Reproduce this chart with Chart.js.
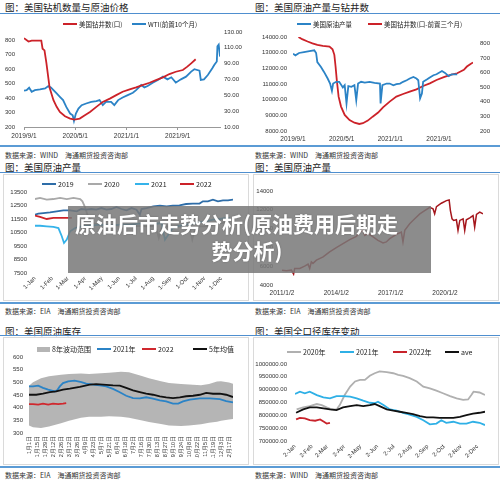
<!DOCTYPE html>
<html>
<head>
<meta charset="utf-8">
<script src="https://cdn.jsdelivr.net/npm/chart.js@4"></script>
<style>
body { margin: 0; width: 500px; height: 480px; position: relative; background: #fff; overflow: hidden; font-family: "Noto Sans CJK SC", sans-serif; }
body > * { position: absolute; }
.t { font-size: 9.5px; line-height: 12px; color: #222; white-space: nowrap; }
.r1 { height: 1px; background: #4f8fcf; }
.r2 { height: 2px; background: #5b9bd5; }
.s { font-size: 7px; line-height: 10px; color: #333; white-space: nowrap; }
.box { border: 1px solid #dadada; }
.lg { font-size: 6.5px; line-height: 10px; color: #222; white-space: nowrap; display: flex; align-items: center; }
.lg i { display: inline-block; width: 14px; height: 2px; margin-right: 2px; }
.ban { background: rgba(120,120,120,0.85); }
.bt { color: #fff; font-weight: 700; font-size: 21px; line-height: 26px; white-space: nowrap; text-shadow: 0 0 2px rgba(0,0,0,0.25); }
</style>
</head>
<body>
<!-- top left -->
<div class="t" style="left:5px;top:1px">图：美国钻机数量与原油价格</div>
<div class="r1" style="left:0;top:13px;width:250px"></div>
<canvas id="c1" width="250" height="128" style="left:0;top:16px"></canvas>
<div class="r2" style="left:0;top:145px;width:250px"></div>
<div class="s" style="left:5px;top:150px">数据来源：WIND　海通期货投资咨询部</div>

<!-- top right -->
<div class="t" style="left:255px;top:1px">图：美国原油产量与钻井数</div>
<div class="r1" style="left:250px;top:13px;width:250px"></div>
<canvas id="c2" width="250" height="128" style="left:250px;top:16px"></canvas>
<div class="r2" style="left:250px;top:145px;width:250px"></div>
<div class="s" style="left:255px;top:150px">数据来源：WIND　海通期货投资咨询部</div>

<!-- middle left -->
<div class="t" style="left:5px;top:161px">图：美国原油产量</div>
<div class="r1" style="left:0;top:172px;width:250px"></div>
<div class="box" style="left:3px;top:174px;width:244px;height:125px"></div>
<canvas id="c3" width="250" height="128" style="left:0;top:174px"></canvas>
<div class="r2" style="left:0;top:302px;width:250px"></div>
<div class="s" style="left:5px;top:306px">数据来源：EIA　海通期货投资咨询部</div>

<!-- middle right -->
<div class="t" style="left:255px;top:161px">图：美国原油产量</div>
<div class="r1" style="left:250px;top:172px;width:250px"></div>
<div class="box" style="left:253px;top:174px;width:244px;height:125px"></div>
<canvas id="c4" width="250" height="128" style="left:250px;top:174px"></canvas>
<div class="r2" style="left:250px;top:302px;width:250px"></div>
<div class="s" style="left:255px;top:306px">数据来源：EIA　海通期货投资咨询部</div>

<!-- bottom left -->
<div class="t" style="left:5px;top:325px">图：美国原油库存</div>
<div class="r1" style="left:0;top:335px;width:250px"></div>
<div class="box" style="left:3px;top:337px;width:244px;height:126px"></div>
<canvas id="c5" width="250" height="128" style="left:0;top:337px"></canvas>
<div class="r2" style="left:0;top:466px;width:250px"></div>
<div class="s" style="left:5px;top:470px">数据来源：EIA　海通期货投资咨询部</div>

<!-- bottom right -->
<div class="t" style="left:255px;top:325px">图：美国全口径库存变动</div>
<div class="r1" style="left:250px;top:335px;width:250px"></div>
<div class="box" style="left:253px;top:337px;width:244px;height:126px"></div>
<canvas id="c6" width="250" height="128" style="left:250px;top:337px"></canvas>
<div class="r2" style="left:250px;top:466px;width:250px"></div>
<div class="s" style="left:255px;top:470px">数据来源：WIND　海通期货投资咨询部</div>

<!-- banner -->
<div class="ban" style="left:68px;top:206px;width:363px;height:67px"></div>
<div class="bt" style="left:75px;top:210px">原油后市走势分析(原油费用后期走</div>
<div class="bt" style="left:68px;top:237px;width:358px;text-align:center">势分析)</div>

<script>
// ---- chart 1: rigs vs WTI (months since 2019/9/1)
const rigMonthsA = [0, 0.7, 1.2, 2.7, 2.9, 3.2, 3.5, 4.0, 4.6, 5.1, 5.6, 6.4, 7.2, 7.9, 8.7, 9.5, 10.3, 11.3, 12.3, 13.4, 14.4, 15.4, 16.5, 17.5, 18.5, 19.6, 20.6, 21.7, 22.7, 23.7, 24.8, 25.5, 26.1, 26.8];
const rigCountA = [812, 789, 796, 795, 740, 728, 640, 470, 385, 339, 304, 274, 258, 251, 258, 281, 304, 339, 373, 396, 420, 443, 459, 473, 489, 505, 523, 542, 565, 581, 593, 616, 639, 667];
const wtiMonthsA = [0, 0.4, 0.8, 1.2, 1.7, 2.5, 3.3, 3.8, 4.2, 4.6,
  5.1, 5.6, 6.1, 6.6, 7.2, 7.6, 7.8, 8.1, 8.5, 9.0,
  9.7, 10.5, 11.3, 11.8, 12.3, 12.8, 13.6, 14.1, 14.7, 15.4,
  16.2, 17.0, 17.5, 18.3, 18.8, 19.3, 20.1, 20.9, 21.7, 22.4,
  23.0, 23.7, 24.5, 25.3, 26.1, 26.6, 27.4, 27.6, 28.1, 28.7,
  29.4, 29.7, 30.1, 30.2, 30.4, 30.6];
const wtiPriceA = [55.8, 56.6, 59.6, 54.5, 56.6, 57.5, 58.8, 61.7, 60, 56.6,
  52.4, 48.2, 44, 35.4, 27, 24.8, 17.6, 27, 33.3, 37.6,
  39.7, 41.8, 42.6, 44, 37.6, 41.8, 41.8, 37.6, 44, 47.3,
  50.3, 53.2, 56.6, 63, 60, 61.7, 66, 69.4, 73.6, 70.2,
  72.8, 66, 70.2, 73.6, 80, 83, 81.2, 69.4, 70.2, 75.7,
  84.2, 88.4, 92.7, 111.8, 114, 99];
const dateTicksA = [0, 8, 16, 24];
const dateLabelsA = ['2019/9/1', '2020/5/1', '2021/1/1', '2021/9/1'];
const rigTicksA = [200, 300, 400, 500, 600, 700, 800];
const wtiTicksA = [10, 30, 50, 70, 90, 110, 130];

// ---- chart 2: production vs rigs (3 months lead)
const prodMonthsB = [0, 0.4, 1.0, 1.8, 2.7, 3.5, 3.8, 4.0, 4.6, 5.1,
  5.7, 6.1, 6.4, 6.6, 7.1, 7.6, 8.2, 8.5, 8.8, 9.1,
  9.6, 10.1, 10.4, 10.7, 11.2, 11.8, 12.6, 13.4, 14.3, 14.4,
  14.7, 15.4, 15.9, 16.5, 17.0, 17.6, 18.1, 18.7, 19.2, 19.8,
  20.3, 20.6, 20.9, 21.2, 21.4, 22.0, 22.5, 23.1, 23.6, 24.5,
  25.0, 25.6, 26.1, 27.0];
const prodB = [12936, 12830, 12980, 13040, 13100, 13150, 12980, 12400, 12090, 11770,
  11350, 11030, 10560, 11030, 11140, 11140, 10780, 10920, 9760, 10860,
  10820, 10920, 9970, 11030, 11140, 11090, 11140, 11070, 11030, 9760,
  10920, 11030, 11030, 10920, 10990, 11030, 11140, 11240, 11350, 11450,
  11350, 11240, 10080, 10390, 11140, 11280, 11410, 11560, 11620, 11830,
  11710, 11500, 11620, 11620];
const rigMonthsB = [0.9, 1.5, 2.4, 3.2, 4.0, 4.9, 6.0, 6.5, 6.8, 7.0,
  7.2, 7.5, 7.9, 8.5, 9.3, 10.1, 10.9, 11.5, 12.3, 13.1,
  14.0, 14.8, 15.9, 17.0, 18.1, 19.2, 20.3, 21.4, 22.5, 23.6,
  24.8, 25.9, 27.0, 28.1, 28.6, 29.2, 29.6];
const rigLeadB = [843, 828, 812, 800, 789, 782, 778, 759, 721, 641,
  549, 435, 367, 310, 275, 257, 248, 253, 271, 298,
  326, 362, 401, 435, 453, 469, 485, 508, 526, 549,
  568, 584, 595, 618, 641, 659, 668];
const prodTicksB = [8000, 9000, 10000, 11000, 12000, 13000, 14000];
const rigTicksB = [200, 300, 400, 500, 600, 700, 800];

// ---- chart 3: seasonal production (day of year)
const days2019C = [1, 7, 16, 28, 40, 52, 64, 76, 84, 93, 102, 111, 120, 129, 138, 147, 156, 165, 174, 183, 189, 192, 201, 213, 225, 237, 248, 260, 272, 284, 296, 302, 311, 320, 329, 338, 347, 356];
const prod2019C = [11820, 11900, 11940, 11990, 12070, 12140, 12140, 12070, 12240, 12190, 12240, 12190, 12310, 12190, 12240, 12390, 12240, 12140, 12310, 12190, 11820, 12240, 12310, 12440, 12490, 12440, 12490, 12510, 12610, 12640, 12640, 12810, 12810, 12930, 12810, 12880, 12880, 12930];
const days2020C = [1, 10, 22, 34, 46, 58, 70, 82, 86, 90, 96, 105, 117, 129, 141, 153, 165, 177, 189, 201, 213, 219, 223, 228, 237, 248, 260, 272, 278, 283, 287, 296, 308, 320, 332, 350];
const prod2020C = [12980, 13060, 12930, 12980, 13060, 12980, 13060, 12980, 12810, 12440, 11700, 11200, 11080, 10960, 11080, 11000, 11080, 10960, 11000, 10960, 11000, 10710, 10090, 10830, 10960, 10830, 10960, 10830, 10960, 9970, 10590, 10960, 10960, 11080, 11200, 11250];
const days2021C = [1, 10, 22, 34, 43, 49, 53, 58, 64, 73, 84, 99, 117, 135, 153, 171, 189, 207, 219, 228, 234, 240, 248, 260, 272, 284, 296, 308, 320, 332, 344, 350];
const prod2021C = [11000, 11000, 10960, 10910, 10830, 10220, 9720, 9970, 10590, 10830, 10960, 11000, 11080, 11000, 11080, 11080, 11150, 11200, 11150, 11200, 9970, 10340, 10830, 11000, 11080, 11150, 11250, 11330, 11450, 11500, 11580, 11580];
const days2022C = [1, 10, 22, 34, 46, 58, 67];
const prod2022C = [11750, 11650, 11500, 11580, 11580, 11580, 11580];
const monthDaysC = [1, 32, 60, 91, 121, 152, 182, 213, 244, 274, 305, 335];
const monthLabelsC = ['1-Jan', '1-Feb', '1-Mar', '1-Apr', '1-May', '1-Jun', '1-Jul', '1-Aug', '1-Sep', '1-Oct', '1-Nov', '1-Dec'];
const prodTicksC = [7500, 8500, 9500, 10500, 11500, 12500, 13500];

// ---- chart 4: long-run production (years)
const yearsD = [2011.0, 2011.24, 2011.52, 2011.64, 2011.7, 2011.98, 2012.25, 2012.44, 2012.53, 2012.62,
  2012.71, 2012.9, 2013.27, 2013.63, 2014.0, 2014.37, 2014.74, 2015.11, 2015.29, 2015.48,
  2015.57, 2015.75, 2016.03, 2016.3, 2016.58, 2016.76, 2016.95, 2017.32, 2017.59, 2017.68,
  2017.78, 2018.05, 2018.33, 2018.61, 2018.88, 2019.16, 2019.34, 2019.43, 2019.53, 2019.8,
  2020.08, 2020.23, 2020.3, 2020.39, 2020.48, 2020.63, 2020.72, 2020.82, 2021.0, 2021.09,
  2021.18, 2021.37, 2021.55, 2021.64, 2021.74, 2021.92, 2022.1];
const prodD = [5580, 5510, 5580, 5160, 5760, 5760, 6000, 6220, 5760, 6460,
  6300, 6640, 6990, 7520, 7980, 8400, 8820, 9180, 9630, 9810,
  9280, 9460, 9110, 8750, 8470, 8580, 8930, 9390, 9630, 8580,
  9810, 10510, 11040, 11570, 11920, 12270, 12100, 11570, 12340, 12700,
  12980, 13050, 11920, 11040, 10870, 10940, 9810, 10870, 11040, 9810,
  10940, 11150, 11390, 10160, 11500, 11750, 11570];
const yearTicksD = [2011, 2014, 2017, 2020];
const yearLabelsD = ['2011/1/2', '2014/1/2', '2017/1/2', '2020/1/2'];
const prodTicksD = [4000, 6000, 8000, 10000, 12000, 14000];

// ---- chart 5: crude stocks (week of year)
const weeksBandE = [0, 1, 3, 5, 8, 10, 13, 15, 18, 20, 23, 25, 28, 30, 33, 35, 38, 40, 43, 45, 47, 48, 50, 51];
const bandHighE = [487, 500, 516, 524, 530, 533, 535, 533, 536, 538, 542, 540, 526, 516, 504, 497, 493, 491, 488, 493, 503, 504, 499, 494];
const bandLowE = [330, 323, 320, 326, 338, 348, 360, 364, 364, 366, 364, 360, 350, 343, 336, 330, 328, 330, 335, 340, 344, 348, 353, 355];
const weeks2021E = [0, 1, 2.3, 3.5, 4.8, 6.4, 7, 7.7, 8.5, 9.8, 11.4, 13.1, 14.3, 16, 17.7, 19.3, 21, 22.7, 24.3, 26, 27.7, 29.3, 31, 32.7, 34.3, 36, 37.3, 38.5, 40.2, 42.7, 45.2, 47.7, 49.3, 51];
const stock2021E = [484, 484, 487, 478, 471, 464, 468, 484, 497, 504, 507, 501, 495, 491, 488, 484, 474, 461, 447, 438, 437, 441, 436, 429, 425, 416, 416, 425, 432, 437, 437, 434, 426, 421];
const weeks5yE = [0, 1.8, 3.5, 5.2, 6.8, 8.5, 10.2, 12.7, 15.2, 16.8, 18.5, 21, 22.7, 24.3, 26, 27.7, 29.3, 31, 32.7, 34.3, 36, 37.7, 39.3, 41, 42.7, 44.3, 46, 47.7, 49.3, 51];
const avg5yE = [451, 451, 455, 461, 464, 471, 475, 482, 491, 493, 491, 488, 487, 478, 468, 461, 455, 451, 445, 441, 438, 441, 445, 447, 451, 458, 455, 455, 451, 442];
const weeks2022E = [0, 1, 2.3, 3.5, 4.8, 6, 7.3, 8.5, 9.3];
const stock2022E = [414, 414, 412, 416, 412, 416, 414, 416, 418];
const weekTicksE = [0, 2, 4, 6, 8, 10, 12, 14, 16, 18, 20, 22, 24, 26, 28, 30, 32, 34, 36, 38, 40, 42, 44, 46, 48, 50];
const weekLabelsE = ['1月1日', '1月15日', '1月29日', '2月12日', '2月26日', '3月12日', '3月26日', '4月9日', '4月23日', '5月7日', '5月21日', '6月4日', '6月18日', '7月2日', '7月16日', '7月30日', '8月13日', '8月27日', '9月10日', '9月24日', '10月8日', '10月22日', '11月5日', '11月19日', '12月3日', '12月17日'];
const stockTicksE = [300, 350, 400, 450, 500, 550, 600];

// ---- chart 6: total stocks (day of year)
const days2020F = [5, 17, 29, 42, 51, 60, 69, 78, 84, 93, 103, 112, 121, 130, 139, 148, 157, 170, 182, 191, 200, 212, 225, 237, 249, 261, 273, 286, 298, 310, 319, 325, 329, 340, 350];
const inv2020F = [823000, 831000, 836000, 844000, 840000, 831000, 823000, 823000, 840000, 879000, 912000, 932000, 938000, 938000, 954000, 964000, 971000, 968000, 964000, 958000, 954000, 945000, 932000, 912000, 905000, 896000, 886000, 875000, 866000, 860000, 862000, 879000, 892000, 889000, 879000];
const days2021F = [2, 11, 20, 29, 42, 54, 66, 78, 90, 103, 115, 127, 139, 148, 154, 164, 176, 188, 200, 212, 225, 237, 249, 261, 270, 279, 292, 304, 316, 328, 340, 350];
const inv2021F = [883000, 892000, 886000, 892000, 879000, 870000, 866000, 875000, 875000, 873000, 866000, 857000, 849000, 847000, 853000, 840000, 823000, 818000, 810000, 803000, 794000, 781000, 765000, 768000, 781000, 771000, 775000, 768000, 768000, 775000, 771000, 762000];
const days2022F = [4, 11, 20, 29, 39, 48, 55, 60, 66];
const inv2022F = [784000, 790000, 788000, 781000, 779000, 784000, 775000, 768000, 771000];
const daysAveF = [4, 17, 29, 42, 54, 66, 78, 90, 103, 115, 127, 139, 148, 157, 170, 182, 194, 206, 218, 231, 243, 255, 267, 279, 292, 304, 316, 328, 340, 350];
const invAveF = [810000, 823000, 831000, 831000, 827000, 823000, 820000, 831000, 836000, 840000, 836000, 840000, 844000, 836000, 823000, 818000, 814000, 810000, 805000, 797000, 792000, 792000, 790000, 790000, 790000, 794000, 801000, 807000, 810000, 814000];
const monthDaysF = [2, 33, 61, 92, 122, 153, 183, 214, 245, 275, 306, 336];
const monthLabelsF = ['2-Jan', '2-Feb', '2-Mar', '2-Apr', '2-May', '2-Jun', '2-Jul', '2-Aug', '2-Sep', '2-Oct', '2-Nov', '2-Dec'];
const invTicksF = [700000, 750000, 800000, 850000, 900000, 950000, 1000000];

Chart.defaults.font.family = '"Liberation Sans", Arial, sans-serif';
Chart.defaults.font.size = 6;
Chart.defaults.color = '#333';

function pts(xs, ys) {
  return xs.map((x, i) => ({ x: x, y: ys[i] }));
}

function line(xs, ys, color, width, axis) {
  return { data: pts(xs, ys), borderColor: color, borderWidth: width || 1.6, pointRadius: 0, fill: false, yAxisID: axis || 'y' };
}

function yScale(o) {
  return {
    type: 'linear', position: o.pos || 'left', min: o.min, max: o.max,
    grid: { display: false, drawTicks: false },
    border: { display: false },
    ticks: { padding: o.pad, font: { size: o.size || 6 }, callback: v => o.fmt ? o.fmt(v) : String(v) },
    afterBuildTicks: s => { s.ticks = o.ticks.map(v => ({ value: v })); },
    afterFit: s => { s.width = o.width; }
  };
}

function xScale(o) {
  return {
    type: 'linear', min: o.min, max: o.max,
    grid: { display: !!o.line, drawOnChartArea: false, drawTicks: !!o.line, tickLength: 3, color: '#999' },
    border: { display: !!o.line, color: '#999' },
    ticks: { padding: o.pad || 2, autoSkip: false, minRotation: o.rot || 0, maxRotation: o.rot || 0, font: { size: o.size || 6 }, callback: (v, i) => o.labels[i] },
    afterBuildTicks: s => { s.ticks = o.ticks.map(v => ({ value: v })); },
    afterFit: s => { s.height = o.height; }
  };
}

function makeChart(id, datasets, scales, pad) {
  return new Chart(document.getElementById(id), {
    type: 'line',
    data: { datasets: datasets },
    options: {
      responsive: false, animation: false, devicePixelRatio: 1,
      layout: { padding: pad },
      plugins: { legend: { display: false }, tooltip: { enabled: false } },
      elements: { point: { radius: 0 }, line: { tension: 0 } },
      scales: scales
    }
  });
}

// html legends
function legend(y, items, size) {
  items.forEach(it => {
    const d = document.createElement('div');
    d.className = 'lg';
    d.style.left = it.x + 'px';
    d.style.top = (y - 5) + 'px';
    if (size) d.style.fontSize = size + 'px';
    d.innerHTML = '<i style="background:' + it.color + ';height:' + (it.box ? 5 : 2) + 'px;width:' + (it.box ? 13 : 14) + 'px"></i>' + it.text;
    document.body.appendChild(d);
  });
}

// chart 1
makeChart('c1', [
  line(rigMonthsA, rigCountA, '#cc2229', 1.8, 'y'),
  line(wtiMonthsA, wtiPriceA, '#2b83c6', 1.8, 'y1')
], {
  x: xScale({ min: 0, max: 30.6, ticks: dateTicksA, labels: dateLabelsA, height: 14, line: true, pad: 2, size: 6.5 }),
  y: yScale({ min: 200, max: 855, ticks: rigTicksA, width: 24, pad: 9 }),
  y1: yScale({ pos: 'right', min: 10, max: 130, ticks: wtiTicksA, width: 30, pad: 4, fmt: v => v.toFixed(2) })
}, { top: 16, left: 0, right: 0, bottom: 3 });
legend(24, [
  { x: 63, text: '美国钻井数(口)', color: '#cc2229' },
  { x: 132, text: 'WTI(前置10个月)', color: '#2b83c6' }
]);

// chart 2
makeChart('c2', [
  line(prodMonthsB, prodB, '#2b83c6', 1.8, 'y'),
  line(rigMonthsB, rigLeadB, '#cc2229', 1.8, 'y1')
], {
  x: xScale({ min: 0, max: 29.6, ticks: dateTicksA, labels: dateLabelsA, height: 11, pad: 4, size: 6.5 }),
  y: yScale({ min: 8000, max: 14000, ticks: prodTicksB, width: 43, pad: 6, fmt: v => v.toFixed(2) }),
  y1: yScale({ pos: 'right', min: 200, max: 843, ticks: rigTicksB, width: 27, pad: 7 })
}, { top: 21, left: 0, right: 0, bottom: 2 });
legend(24, [
  { x: 297, text: '美国原油产量', color: '#2b83c6' },
  { x: 368, text: '美国钻井数(口-前置三个月)', color: '#cc2229' }
]);

// chart 3
makeChart('c3', [
  line(days2022C, prod2022C, '#cc2229', 1.8),
  line(days2021C, prod2021C, '#35b3ea', 1.8),
  line(days2019C, prod2019C, '#2e6da8', 1.8),
  line(days2020C, prod2020C, '#a9a9a9', 1.8)
], {
  x: xScale({ min: 1, max: 356, ticks: monthDaysC, labels: monthLabelsC, rot: 45, height: 22, pad: 2 }),
  y: yScale({ min: 7500, max: 13500, ticks: prodTicksC, width: 35, pad: 8 })
}, { top: 18, left: 0, right: 17, bottom: 7 });
legend(184, [
  { x: 42, text: '2019', color: '#2e6da8' },
  { x: 88, text: '2020', color: '#a9a9a9' },
  { x: 135, text: '2021', color: '#35b3ea' },
  { x: 180, text: '2022', color: '#cc2229' }
], 7);

// chart 4
makeChart('c4', [
  line(yearsD, prodD, '#a5161c', 1.5)
], {
  x: xScale({ min: 2011, max: 2022.1, ticks: yearTicksD, labels: yearLabelsD, height: 12, pad: 4, size: 6.5 }),
  y: yScale({ min: 4000, max: 14000, ticks: prodTicksD, width: 32, pad: 9 })
}, { top: 17, left: 0, right: 17, bottom: 5 });

// chart 5
makeChart('c5', [
  { data: pts(weeksBandE, bandLowE), borderWidth: 0, pointRadius: 0, fill: false, order: 5 },
  { data: pts(weeksBandE, bandHighE), borderWidth: 0, pointRadius: 0, backgroundColor: '#b5b5b5', fill: '-1', order: 4 },
  Object.assign(line(weeks2022E, stock2022E, '#d0282e', 1.8), { order: 0 }),
  Object.assign(line(weeks5yE, avg5yE, '#111111', 1.8), { order: 1 }),
  Object.assign(line(weeks2021E, stock2021E, '#2b83c6', 1.8), { order: 2 })
], {
  x: xScale({ min: 0, max: 51, ticks: weekTicksE, labels: weekLabelsE, rot: 90, height: 25, pad: 3, size: 5.5 }),
  y: yScale({ min: 300, max: 600, ticks: stockTicksE, width: 29, pad: 6 })
}, { top: 20, left: 0, right: 17, bottom: 7 });
legend(349, [
  { x: 37, text: '8年波动范围', color: '#b5b5b5', box: true },
  { x: 97, text: '2021年', color: '#2b83c6' },
  { x: 142, text: '2022', color: '#d0282e' },
  { x: 193, text: '5年均值', color: '#111111' }
], 7);

// chart 6
makeChart('c6', [
  line(days2022F, inv2022F, '#c8232b', 1.8),
  line(daysAveF, invAveF, '#111111', 1.8),
  line(days2021F, inv2021F, '#2fb0e6', 1.8),
  line(days2020F, inv2020F, '#b0b0b0', 1.8)
], {
  x: xScale({ min: 2, max: 350, ticks: monthDaysF, labels: monthLabelsF, rot: 45, height: 18, pad: 2 }),
  y: yScale({ min: 700000, max: 1000000, ticks: invTicksF, width: 45, pad: 8, fmt: v => v.toFixed(2) })
}, { top: 27, left: 0, right: 15, bottom: 6 });
legend(352, [
  { x: 287, text: '2020年', color: '#b0b0b0' },
  { x: 340, text: '2021年', color: '#2fb0e6' },
  { x: 393, text: '2022年', color: '#c8232b' },
  { x: 445, text: 'ave', color: '#111111' }
], 7);
</script>
</body>
</html>
